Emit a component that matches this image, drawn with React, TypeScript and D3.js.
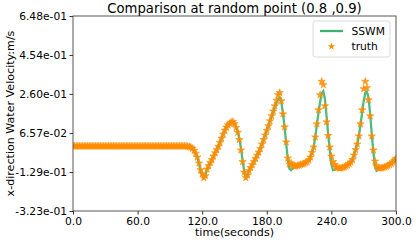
import React, { useRef, useEffect } from 'react';
import * as d3 from 'd3';

// sample spacing of both series (seconds)
const dt = 1.5;

// truth (orange stars), one value every dt seconds from t = 0 to t = 300
const truthValues: number[] = [
  0, 0, 0, 0, 0, 0, 0, 0, 0, 0,
  0, 0, 0, 0, 0, 0, 0, 0, 0, 0,
  0, 0, 0, 0, 0, 0, 0, 0, 0, 0,
  0, 0, 0, 0, 0, 0, 0, 0, 0, 0,
  0, 0, 0, 0, 0, 0, 0, 0, 0, 0,
  0, 0, 0, 0, 0, 0, 0, 0, 0, 0,
  0, 0, 0, 0, 0, 0, 0, 0, 0, 0,
  0, -0.001, -0.003, -0.006, -0.012, -0.022, -0.036, -0.055, -0.085, -0.118,
  -0.138, -0.158, -0.148, -0.115, -0.098, -0.082, -0.068, -0.05, -0.034, -0.018,
  -0.002, 0.018, 0.039, 0.06, 0.079, 0.094, 0.105, 0.113, 0.119, 0.122,
  0.112, 0.092, 0.068, 0.032, -0.02, -0.078, -0.13, -0.157, -0.145, -0.122,
  -0.108, -0.092, -0.077, -0.062, -0.046, -0.03, -0.012, 0.01, 0.032, 0.055,
  0.078, 0.1, 0.125, 0.15, 0.174, 0.2, 0.228, 0.255, 0.266, 0.225,
  0.16, 0.095, 0.02, -0.06, -0.09, -0.085, -0.095, -0.1, -0.099, -0.097,
  -0.095, -0.092, -0.09, -0.087, -0.083, -0.078, -0.07, -0.055, -0.032, -0.005,
  0.045, 0.11, 0.18, 0.255, 0.322, 0.305, 0.2, 0.12, 0.052, -0.005,
  -0.05, -0.078, -0.092, -0.105, -0.108, -0.11, -0.109, -0.107, -0.104, -0.1,
  -0.095, -0.088, -0.08, -0.068, -0.045, -0.018, 0.01, 0.05, 0.11, 0.18,
  0.285, 0.322, 0.29, 0.23, 0.15, 0.05, -0.02, -0.075, -0.1, -0.108,
  -0.11, -0.109, -0.107, -0.104, -0.101, -0.097, -0.092, -0.087, -0.08, -0.071,
  -0.062,
];

// SSWM prediction (green line), same sampling
const sswmValues: number[] = [
  0, 0, 0, 0, 0, 0, 0, 0, 0, 0,
  0, 0, 0, 0, 0, 0, 0, 0, 0, 0,
  0, 0, 0, 0, 0, 0, 0, 0, 0, 0,
  0, 0, 0, 0, 0, 0, 0, 0, 0, 0,
  0, 0, 0, 0, 0, 0, 0, 0, 0, 0,
  0, 0, 0, 0, 0, 0, 0, 0, 0, 0,
  0, 0, 0, 0, 0, 0, 0, 0, 0, 0,
  0, -0.001, -0.003, -0.006, -0.012, -0.022, -0.036, -0.056, -0.088, -0.122,
  -0.145, -0.158, -0.145, -0.115, -0.097, -0.082, -0.068, -0.05, -0.034, -0.018,
  -0.002, 0.018, 0.039, 0.06, 0.079, 0.094, 0.105, 0.113, 0.119, 0.121,
  0.114, 0.096, 0.072, 0.038, -0.01, -0.07, -0.125, -0.157, -0.148, -0.125,
  -0.108, -0.092, -0.077, -0.062, -0.046, -0.03, -0.012, 0.01, 0.032, 0.055,
  0.078, 0.1, 0.124, 0.148, 0.17, 0.193, 0.215, 0.235, 0.242, 0.22,
  0.165, 0.095, 0.015, -0.065, -0.112, -0.12, -0.112, -0.105, -0.1, -0.097,
  -0.095, -0.092, -0.09, -0.087, -0.083, -0.078, -0.07, -0.055, -0.032, -0.005,
  0.045, 0.105, 0.165, 0.22, 0.262, 0.274, 0.235, 0.15, 0.06, -0.02,
  -0.09, -0.12, -0.118, -0.112, -0.11, -0.11, -0.109, -0.107, -0.104, -0.1,
  -0.095, -0.088, -0.08, -0.068, -0.045, -0.018, 0.01, 0.05, 0.105, 0.165,
  0.225, 0.265, 0.272, 0.24, 0.16, 0.06, -0.03, -0.1, -0.122, -0.115,
  -0.11, -0.109, -0.107, -0.104, -0.101, -0.097, -0.092, -0.087, -0.08, -0.071,
  -0.062,
];

const xTicks = [0, 60, 120, 180, 240, 300];
const yTicks = [-0.323, -0.129, 0.0657, 0.26, 0.454, 0.648];
const yTickLabels = ['-3.23e-01', '-1.29e-01', '6.57e-02', '2.60e-01', '4.54e-01', '6.48e-01'];
const seriesNames = ['SSWM', 'truth'];

const width = 416;
const height = 242;
const green = '#3cb371';
const orange = '#ff8c00';
const font = 'DejaVu Sans, sans-serif';

const App: React.FC = () => {
  const svgRef = useRef<SVGSVGElement | null>(null);

  useEffect(() => {
    if (!svgRef.current) return;
    const svg = d3.select(svgRef.current);
    svg.selectAll('*').remove();

    const margin = { top: 16, right: 20, bottom: 31, left: 73 };
    const innerWidth = width - margin.left - margin.right;
    const innerHeight = height - margin.top - margin.bottom;

    const x = d3.scaleLinear().domain([0, 300]).range([0, innerWidth]);
    const y = d3.scaleLinear().domain([-0.323, 0.648]).range([innerHeight, 0]);

    const g = svg.append('g').attr('transform', `translate(${margin.left},${margin.top})`);

    const clip = svg.append('defs').append('clipPath').attr('id', 'plot-clip');
    clip.append('rect').attr('width', innerWidth).attr('height', innerHeight);

    const plot = g.append('g').attr('clip-path', 'url(#plot-clip)');

    const line = d3
      .line<number>()
      .x((_, i) => x(i * dt))
      .y((d) => y(d));

    plot
      .append('path')
      .datum(sswmValues)
      .attr('fill', 'none')
      .attr('stroke', green)
      .attr('stroke-opacity', 0.9)
      .attr('stroke-width', 2.3)
      .attr('d', line);

    const star = d3.symbol().type(d3.symbolStar).size(17);
    plot
      .selectAll('path.star')
      .data(truthValues)
      .join('path')
      .attr('class', 'star')
      .attr('d', star)
      .attr('transform', (d, i) => `translate(${x(i * dt)},${y(d)})`)
      .attr('fill', orange)
      .attr('fill-opacity', 0.85)
      .attr('stroke', orange)
      .attr('stroke-opacity', 0.55)
      .attr('stroke-width', 1);

    // axes
    const xAxis = d3
      .axisBottom(x)
      .tickValues(xTicks)
      .tickFormat((d) => (d as number).toFixed(1))
      .tickSizeInner(3.5)
      .tickSizeOuter(0)
      .tickPadding(2.5);
    const yAxis = d3
      .axisLeft(y)
      .tickValues(yTicks)
      .tickFormat((_, i) => yTickLabels[i])
      .tickSizeInner(3.5)
      .tickSizeOuter(0)
      .tickPadding(2.5);

    const gx = g.append('g').attr('transform', `translate(0,${innerHeight})`).call(xAxis);
    const gy = g.append('g').call(yAxis);
    [gx, gy].forEach((a) => {
      a.select('.domain').remove();
      a.selectAll('line').attr('stroke', '#333');
      a.selectAll('text').attr('fill', '#000').style('font-family', font).style('font-size', '10.7px');
    });

    // frame
    g.append('rect')
      .attr('width', innerWidth)
      .attr('height', innerHeight)
      .attr('fill', 'none')
      .attr('stroke', '#444')
      .attr('stroke-width', 0.9);

    // labels
    svg.append('text')
      .attr('x', margin.left + innerWidth / 2)
      .attr('y', 12.5)
      .attr('text-anchor', 'middle')
      .style('font-family', font)
      .style('font-size', '13.2px')
      .text('Comparison at random point (0.8 ,0.9)');

    svg.append('text')
      .attr('x', margin.left + innerWidth / 2)
      .attr('y', 236)
      .attr('text-anchor', 'middle')
      .style('font-family', font)
      .style('font-size', '11.1px')
      .text('time(seconds)');

    svg.append('text')
      .attr('transform', `translate(13.5,${margin.top + innerHeight / 2}) rotate(-90)`)
      .attr('text-anchor', 'middle')
      .style('font-family', font)
      .style('font-size', '11.1px')
      .text('x-direction Water Velocity:m/s');

    // legend
    const lg = g.append('g').attr('transform', `translate(${innerWidth - 83},5)`);
    lg.append('rect')
      .attr('width', 77)
      .attr('height', 36)
      .attr('rx', 2.5)
      .attr('fill', 'white')
      .attr('fill-opacity', 0.8)
      .attr('stroke', '#d0d0d0')
      .attr('stroke-width', 0.8);
    lg.append('line')
      .attr('x1', 7)
      .attr('x2', 30)
      .attr('y1', 10)
      .attr('y2', 10)
      .attr('stroke', green)
      .attr('stroke-width', 2.3);
    lg.append('path')
      .attr('d', star)
      .attr('transform', 'translate(18.5,25.5)')
      .attr('fill', orange);
    seriesNames.forEach((name, i) => {
      lg.append('text')
        .attr('x', 38.5)
        .attr('y', 10 + i * 15.5)
        .attr('dy', '0.35em')
        .style('font-family', font)
        .style('font-size', '10.7px')
        .text(name);
    });
  }, []);

  return (
    <svg
      ref={svgRef}
      width={width}
      height={height}
      style={{ position: 'absolute', left: 0, top: 0, background: 'white' }}
    />
  );
};

export default App;
